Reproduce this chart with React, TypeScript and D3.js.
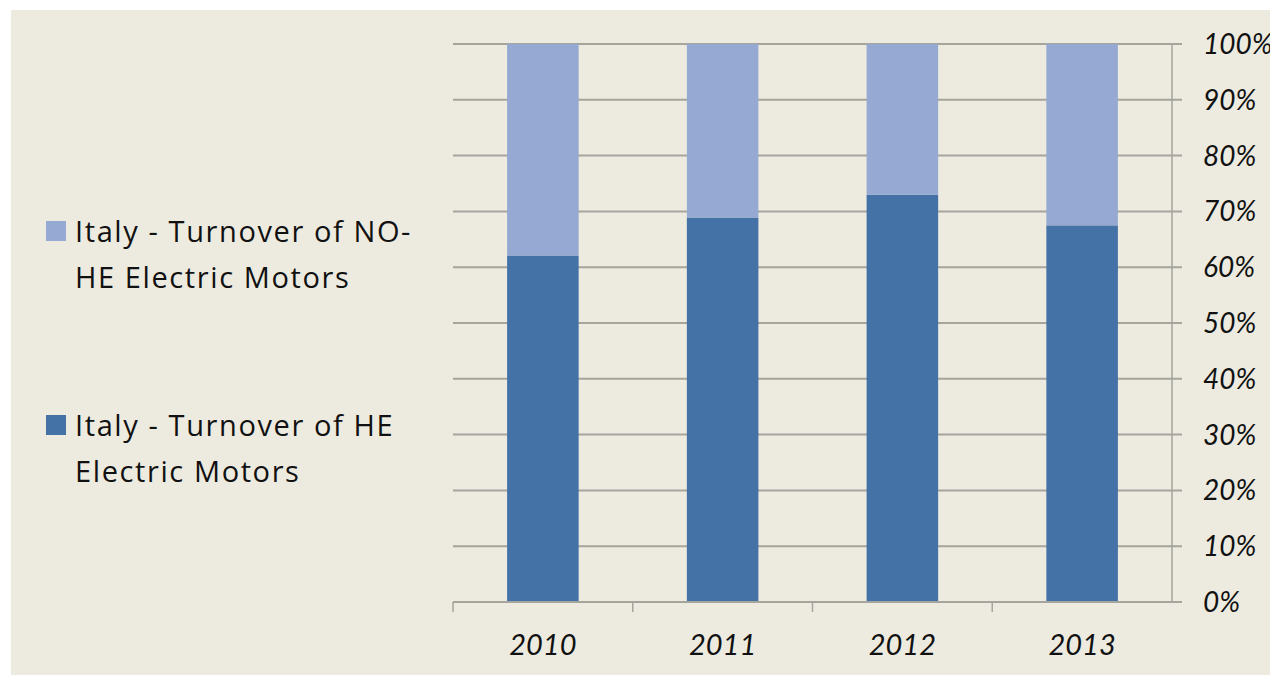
import React, { useEffect, useRef } from "react";
import * as d3 from "d3";

const years = ["2010", "2011", "2012", "2013"];
const heShare = [62.1, 68.9, 73.0, 67.5];
const noHeShare = [37.9, 31.1, 27.0, 32.5];
const yTicks = [0, 10, 20, 30, 40, 50, 60, 70, 80, 90, 100];
const seriesNames = ["Italy - Turnover of HE Electric Motors", "Italy - Turnover of NO-HE Electric Motors"];
const colors = ["#4471A6", "#95A9D2"];

const svgWidth = 1270;
const svgHeight = 675;

function App() {
  const svgRef = useRef<SVGSVGElement>(null);

  useEffect(() => {
    const svg = d3.select(svgRef.current);
    svg.selectAll("*").remove();

    const margin = { top: 44, right: 98, bottom: 73, left: 453 };
    const width = svgWidth - margin.left - margin.right;
    const height = svgHeight - margin.top - margin.bottom;

    svg
      .append("rect")
      .attr("x", 11)
      .attr("y", 10)
      .attr("width", svgWidth - 11)
      .attr("height", svgHeight - 10)
      .attr("fill", "#EDEBE0");

    const g = svg.append("g").attr("transform", `translate(${margin.left},${margin.top})`);

    const x = d3.scaleBand().domain(years).range([0, width]).paddingInner(0).paddingOuter(0);
    const y = d3.scaleLinear().domain([0, 100]).range([height, 0]);

    // gridlines
    g.selectAll(".grid")
      .data(yTicks)
      .enter()
      .append("line")
      .attr("x1", 0)
      .attr("x2", width + 10)
      .attr("y1", (d) => y(d))
      .attr("y2", (d) => y(d))
      .attr("stroke", "#A5A49D")
      .attr("stroke-width", 2);

    // stacked bars
    const rows = years.map((yr, i) => ({ year: yr, he: heShare[i], nohe: noHeShare[i] }));
    const stack = d3.stack<any>().keys(["he", "nohe"])(rows);
    const barW = x.bandwidth() * 0.398;

    stack.forEach((layer, li) => {
      g.selectAll(".bar" + li)
        .data(layer)
        .enter()
        .append("rect")
        .attr("x", (d: any) => x(d.data.year)! + (x.bandwidth() - barW) / 2)
        .attr("y", (d) => y(d[1]))
        .attr("width", barW)
        .attr("height", (d) => y(d[0]) - y(d[1]))
        .attr("fill", colors[li]);
    });

    // right axis
    g.append("line")
      .attr("x1", width)
      .attr("x2", width)
      .attr("y1", 0)
      .attr("y2", height)
      .attr("stroke", "#A5A49D")
      .attr("stroke-width", 1.5);

    g.selectAll(".ylab")
      .data(yTicks)
      .enter()
      .append("text")
      .attr("x", width + 31)
      .attr("y", (d) => y(d))
      .attr("dy", "0.36em")
      .attr("font-family", "Lato, 'Open Sans', sans-serif")
      .attr("font-style", "italic")
      .attr("font-size", 28)
      .attr("fill", "#111")
      .text((d) => d + "%");

    // bottom axis
    g.append("line")
      .attr("x1", 0)
      .attr("x2", width)
      .attr("y1", height)
      .attr("y2", height)
      .attr("stroke", "#A5A49D")
      .attr("stroke-width", 2);

    g.selectAll(".xtick")
      .data(years)
      .enter()
      .append("line")
      .attr("x1", (d) => x(d)!)
      .attr("x2", (d) => x(d)!)
      .attr("y1", height)
      .attr("y2", height + 10)
      .attr("stroke", "#A5A49D")
      .attr("stroke-width", 1.5);

    g.selectAll(".xlab")
      .data(years)
      .enter()
      .append("text")
      .attr("x", (d) => x(d)! + x.bandwidth() / 2)
      .attr("y", height + 53)
      .attr("text-anchor", "middle")
      .attr("font-family", "Lato, 'Open Sans', sans-serif")
      .attr("font-style", "italic")
      .attr("font-size", 29)
      .attr("fill", "#111")
      .text((d) => d);

    // legend
    const legendItems = [
      { color: colors[1], lines: ["Italy - Turnover of NO-", "HE Electric Motors"], top: 221 },
      { color: colors[0], lines: ["Italy - Turnover of HE", "Electric Motors"], top: 415 },
    ];
    legendItems.forEach((item, i) => {
      svg
        .append("rect")
        .attr("x", 46)
        .attr("y", item.top)
        .attr("width", 20)
        .attr("height", 20)
        .attr("fill", item.color)
        .append("title")
        .text(seriesNames[1 - i]);
      item.lines.forEach((ln, j) => {
        svg
          .append("text")
          .attr("x", 75)
          .attr("y", item.top + 21 + j * 46)
          .attr("font-family", "'Open Sans', Lato, sans-serif")
          .attr("font-size", 29)
          .attr("letter-spacing", 1.6)
          .attr("fill", "#111")
          .text(ln);
      });
    });
  }, []);

  return (
    <div style={{ position: "absolute", left: 0, top: 0 }}>
      <svg ref={svgRef} width={svgWidth} height={svgHeight} style={{ display: "block" }}></svg>
    </div>
  );
}

export default App;
